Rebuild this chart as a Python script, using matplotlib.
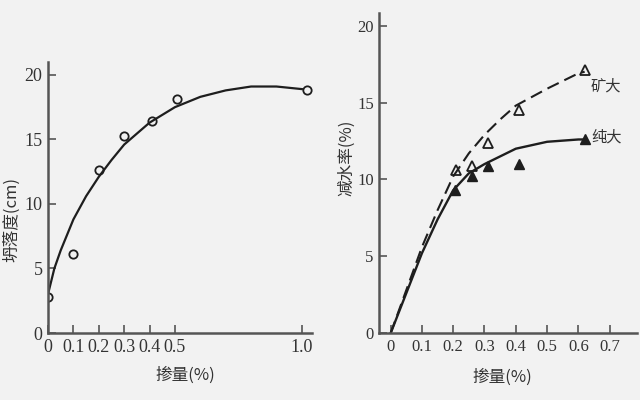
import matplotlib
matplotlib.use("Agg")
import matplotlib.pyplot as plt

# ---- Left chart data: slump vs dosage ----
slump_x = [0.0, 0.1, 0.2, 0.3, 0.41, 0.51, 1.02]
slump_y = [2.8, 6.1, 12.6, 15.3, 16.4, 18.1, 18.8]
slump_curve_x = [0.0, 0.025, 0.05, 0.1, 0.15, 0.2, 0.25, 0.3, 0.4, 0.5, 0.6, 0.7, 0.8, 0.9, 1.0]
slump_curve_y = [3.0, 5.0, 6.4, 8.8, 10.6, 12.1, 13.4, 14.6, 16.3, 17.5, 18.3, 18.8, 19.1, 19.1, 18.9]
left_xticks = [0, 0.1, 0.2, 0.3, 0.4, 0.5, 1.0]
left_xticklabels = ["0", "0.1", "0.2", "0.3", "0.4", "0.5", "1.0"]
left_yticks = [0, 5, 10, 15, 20]

# ---- Right chart data: water reduction vs dosage ----
kd_x = [0.21, 0.26, 0.31, 0.41, 0.62]
kd_y = [10.6, 10.9, 12.4, 14.5, 17.1]
cd_x = [0.205, 0.26, 0.31, 0.41, 0.62]
cd_y = [9.3, 10.2, 10.9, 11.0, 12.6]
kd_curve_x = [0, 0.05, 0.1, 0.15, 0.2, 0.25, 0.3, 0.35, 0.4, 0.5, 0.6, 0.62]
kd_curve_y = [0, 2.8, 5.6, 8.0, 10.2, 11.7, 12.9, 13.9, 14.8, 15.9, 16.9, 17.0]
cd_curve_x = [0, 0.05, 0.1, 0.15, 0.2, 0.25, 0.3, 0.35, 0.4, 0.5, 0.6, 0.62]
cd_curve_y = [0, 2.6, 5.2, 7.4, 9.3, 10.4, 11.0, 11.5, 12.0, 12.45, 12.6, 12.6]
right_xticks = [0, 0.1, 0.2, 0.3, 0.4, 0.5, 0.6, 0.7]
right_xticklabels = ["0", "0.1", "0.2", "0.3", "0.4", "0.5", "0.6", "0.7"]
right_yticks = [0, 5, 10, 15, 20]
label_kd = "矿大"
label_cd = "纯大"

plt.rcParams["font.family"] = ["Liberation Serif", "DejaVu Serif"]
CJK = ["Noto Sans CJK SC", "DejaVu Sans"]
BG = "#f2f2f2"
INK = "#1e1e1e"
AX = "#555555"
TXT = "#333333"

fig = plt.figure(figsize=(6.4, 4.0), dpi=100, facecolor=BG)

def style(ax, fs):
    ax.set_facecolor(BG)
    for s in ["top", "right"]:
        ax.spines[s].set_visible(False)
    for s in ["left", "bottom"]:
        ax.spines[s].set_color(AX)
        ax.spines[s].set_linewidth(1.8)
    ax.tick_params(direction="in", length=6, width=1.2, color=AX,
                   labelsize=fs, labelcolor=TXT, pad=4)

# Left axes
ax1 = fig.add_axes([0.075, 0.1675, 0.4125, 0.6775])
ax1.plot(slump_curve_x, slump_curve_y, color=INK, lw=1.6)
ax1.plot(slump_x, slump_y, ls="none", marker="o", ms=6, mfc="none",
         mec=INK, mew=1.3)
ax1.set_xlim(0, 1.04)
ax1.set_ylim(0, 21.0)
ax1.set_xticks(left_xticks)
ax1.set_xticklabels(left_xticklabels)
ax1.set_yticks(left_yticks)
style(ax1, 13)
ax1.set_ylabel("坍落度(cm)", family=CJK, fontsize=12, color=TXT)
ax1.yaxis.set_label_coords(-0.105, 0.42)
ax1.set_xlabel("掺量(%)", family=CJK, fontsize=12, color=TXT)
ax1.xaxis.set_label_coords(0.52, -0.125)

# Right axes
ax2 = fig.add_axes([0.5927, 0.1667, 0.402, 0.80])
ax2.plot(kd_curve_x, kd_curve_y, color=INK, lw=1.5, ls=(0, (6, 3)))
ax2.plot(cd_curve_x, cd_curve_y, color=INK, lw=1.7)
ax2.plot(kd_x, kd_y, ls="none", marker="^", ms=6.5, mfc="none",
         mec=INK, mew=1.3)
ax2.plot(cd_x, cd_y, ls="none", marker="^", ms=6.5, mfc=INK, mec=INK)
ax2.set_xlim(-0.036, 0.786)
ax2.set_ylim(0, 20.8)
ax2.set_xticks(right_xticks)
ax2.set_xticklabels(right_xticklabels)
ax2.set_yticks(right_yticks)
style(ax2, 12)
ax2.text(0.688, 16.1, label_kd, family=CJK, fontsize=11, color=TXT,
         ha="center", va="center")
ax2.text(0.69, 12.75, label_cd, family=CJK, fontsize=11, color=TXT,
         ha="center", va="center")
ax2.set_ylabel("减水率(%)", family=CJK, fontsize=12, color=TXT)
ax2.yaxis.set_label_coords(-0.095, 0.55)
ax2.set_xlabel("掺量(%)", family=CJK, fontsize=12, color=TXT)
ax2.xaxis.set_label_coords(0.48, -0.11)

fig.savefig("out.png", dpi=100, facecolor=BG)
